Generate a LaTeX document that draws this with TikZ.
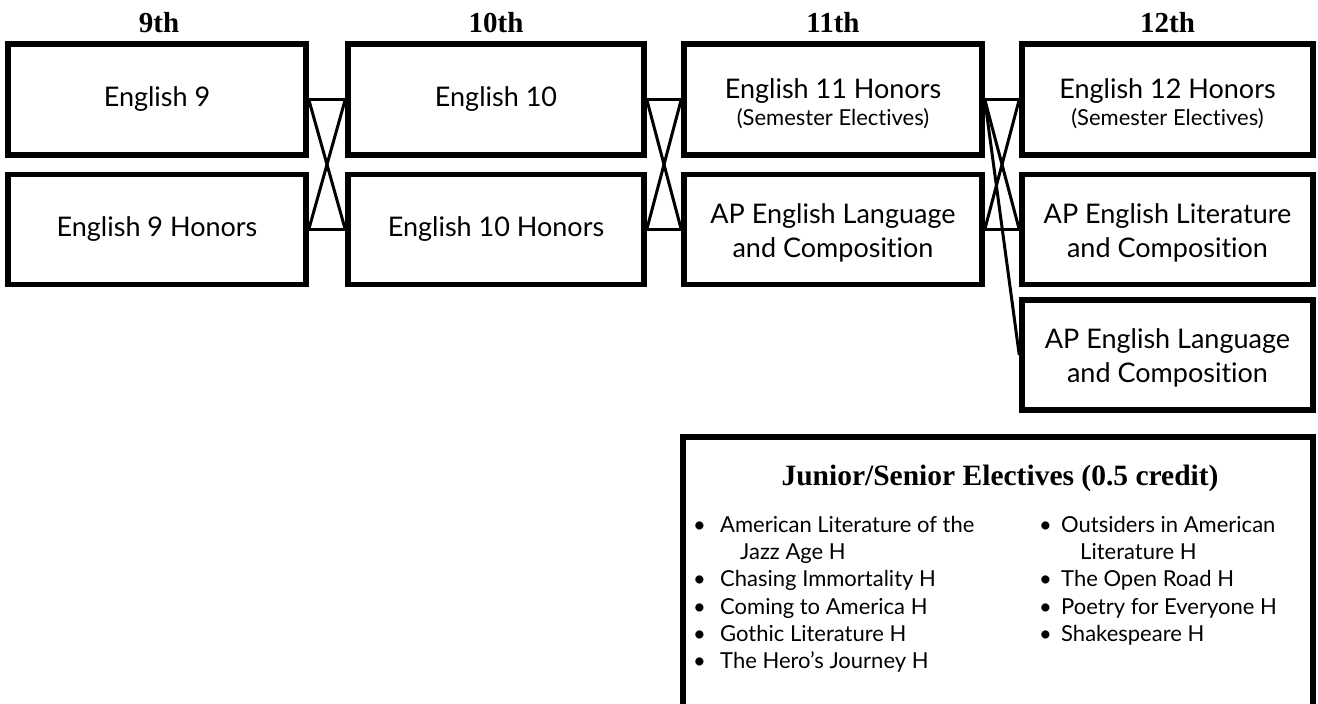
\documentclass[tikz,border=0pt]{standalone}
\usepackage{fontspec}
\setmainfont{Lato}[Ligatures={NoCommon}]
\newfontfamily\headfont{Liberation Serif}
\begin{document}
\begin{tikzpicture}[x=1pt,y=-1pt,
  box/.style={draw, line width=5.5pt, inner sep=0pt, align=center,
    font=\fontsize{27}{34}\selectfont},
  conn/.style={line width=3pt},
  hdr/.style={anchor=base, font=\headfont\bfseries\fontsize{29}{34}\selectfont},
  item/.style={anchor=north west, align=left, inner sep=0pt, font=\fontsize{22}{27.2}\selectfont}]
\useasboundingbox (0,0) rectangle (1318,704);
% headers
\node[hdr] (h9)  at (159,32) {9th};
\node[hdr] (h10) at (496,32) {10th};
\node[hdr] (h11) at (833,32) {11th};
\node[hdr] (h12) at (1167.5,32) {12th};
% column 9
\node[box, minimum width=298pt, minimum height=111pt] (e9) at (157,99.5) {English 9};
\node[box, minimum width=298pt, minimum height=110pt] (e9h) at (157,229.5) {English 9 Honors};
% column 10
\node[box, minimum width=296pt, minimum height=111pt] (e10) at (496,99.5) {English 10};
\node[box, minimum width=296pt, minimum height=110pt] (e10h) at (496,229.5) {English 10 Honors};
% column 11
\node[box, minimum width=298pt, minimum height=111pt] (e11) at (833,99.5) {};
\node[align=center, font=\fontsize{27}{32}\selectfont] (e11t) at (833,104)
  {English 11 Honors\\[-5pt]{\fontsize{22}{27}\selectfont (Semester Electives)}};
\node[box, minimum width=298pt, minimum height=110pt] (ap11) at (833,229.5) {};
\node[align=center, font=\fontsize{27}{34}\selectfont] (ap11t) at (833,232.5)
  {AP English Language\\and Composition};
% column 12
\node[box, minimum width=291pt, minimum height=111pt] (e12) at (1167.5,99.5) {};
\node[align=center, font=\fontsize{27}{32}\selectfont] (e12t) at (1167.5,104)
  {English 12 Honors\\[-5pt]{\fontsize{22}{27}\selectfont (Semester Electives)}};
\node[box, minimum width=291pt, minimum height=110pt] (lit12) at (1167.5,229.5) {};
\node[align=center, font=\fontsize{27}{34}\selectfont] (lit12t) at (1167.5,232.5)
  {AP English Literature\\and Composition};
\node[box, minimum width=291pt, minimum height=110pt] (lang12) at (1167.5,355) {};
\node[align=center, font=\fontsize{27}{34}\selectfont] (lang12t) at (1167.5,358)
  {AP English Language\\and Composition};
% connectors 9 -> 10
\draw[conn] (e9.east) -- (e10.west);
\draw[conn] (e9h.east) -- (e10h.west);
\draw[conn] (e9.east) -- (e10h.west);
\draw[conn] (e9h.east) -- (e10.west);
% connectors 10 -> 11
\draw[conn] (e10.east) -- (e11.west);
\draw[conn] (e10h.east) -- (ap11.west);
\draw[conn] (e10.east) -- (ap11.west);
\draw[conn] (e10h.east) -- (e11.west);
% connectors 11 -> 12
\draw[conn] (e11.east) -- (e12.west);
\draw[conn] (ap11.east) -- (lit12.west);
\draw[conn] (e11.east) -- (lit12.west);
\draw[conn] (ap11.east) -- (e12.west);
\draw[conn] (e11.east) -- (lang12.west);
% electives box
\node[draw, line width=5.5pt, minimum width=630pt, minimum height=300pt, inner sep=0pt] (elect) at (998,587) {};
\node[anchor=base, font=\headfont\bfseries\fontsize{29.5}{34}\selectfont] (etitle) at (1000,485)
  {Junior/Senior Electives (0.5 credit)};
\node[item] (colA) at (693,516)
  {\makebox[27pt][l]{\textbullet}American Literature of the\\
   \hspace{47pt}Jazz Age H\\
   \makebox[27pt][l]{\textbullet}Chasing Immortality H\\
   \makebox[27pt][l]{\textbullet}Coming to America H\\
   \makebox[27pt][l]{\textbullet}Gothic Literature H\\
   \makebox[27pt][l]{\textbullet}The Hero’s Journey H};
\node[item] (colB) at (1039,516)
  {\makebox[22pt][l]{\textbullet}Outsiders in American\\
   \hspace{41pt}Literature H\\
   \makebox[22pt][l]{\textbullet}The Open Road H\\
   \makebox[22pt][l]{\textbullet}Poetry for Everyone H\\
   \makebox[22pt][l]{\textbullet}Shakespeare H};
\end{tikzpicture}
\end{document}
